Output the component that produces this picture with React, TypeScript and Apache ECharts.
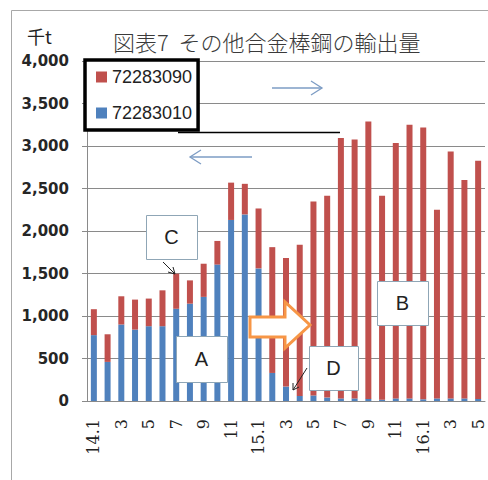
import { useEffect, useRef } from "react";
import * as echarts from "echarts";

// Monthly export volume (thousand tonnes), Jan 2014 – May 2016
const categories = [
  "14.1", "14.2", "14.3", "14.4", "14.5", "14.6", "14.7", "14.8", "14.9", "14.10", "14.11", "14.12",
  "15.1", "15.2", "15.3", "15.4", "15.5", "15.6", "15.7", "15.8", "15.9", "15.10", "15.11", "15.12",
  "16.1", "16.2", "16.3", "16.4", "16.5",
];

const tickLabels = [
  "14.1", "2", "3", "4", "5", "6", "7", "8", "9", "10", "11", "12",
  "15.1", "2", "3", "4", "5", "6", "7", "8", "9", "10", "11", "12",
  "16.1", "2", "3", "4", "5",
];

// HS 7228.30-10
const export72283010 = [
  775, 460, 900, 840, 880, 880, 1085, 1145, 1225, 1605, 2130, 2195,
  1560, 330, 170, 60, 65, 40, 30, 30, 25, 15, 30, 30,
  20, 30, 30, 30, 25,
];

// HS 7228.30-90
const export72283090 = [
  305, 325, 332, 353, 325, 422, 413, 274, 390, 278, 439, 360,
  705, 1480, 1511, 1778, 2281, 2376, 3063, 3047, 3263, 2401, 3004, 3219,
  3198, 2219, 2906, 2570, 2802,
];

const yMin = 0;
const yMax = 4000;
const yStep = 500;

const seriesNames = ["72283090", "72283010"];

const BLUE = "#4f81bd";
const RED = "#c0504d";
const GRID = "#8a8a8a";
const NOTE_BORDER = "#8fa6b6";
const ARROW_BLUE = "#7d9cc4";

function noteBox(x: number, y: number, w: number, h: number, label: string) {
  return {
    type: "group",
    z: 100,
    children: [
      {
        type: "rect",
        shape: { x: x + 0.5, y: y + 0.5, width: w, height: h },
        style: { fill: "#fff", stroke: NOTE_BORDER, lineWidth: 1 },
        z: 100,
      },
      {
        type: "text",
        x: x + w / 2,
        y: y + h / 2,
        style: {
          text: label,
          fontFamily: "Liberation Sans",
          fontSize: 20,
          fill: "#222",
          align: "center",
          verticalAlign: "middle",
        },
        z: 101,
      },
    ],
  };
}

export default function App() {
  const ref = useRef<HTMLDivElement>(null);

  useEffect(() => {
    if (!ref.current) return;
    const chart = echarts.init(ref.current, undefined, { renderer: "svg" });

    chart.setOption({
      animation: false,
      backgroundColor: "#fff",
      title: {
        text: "図表7  その他合金棒鋼の輸出量",
        left: 113,
        top: 30,
        padding: 0,
        textStyle: {
          fontFamily: "Noto Sans CJK JP",
          fontSize: 22,
          fontWeight: 300,
          color: "#3a3a3a",
        },
      },
      legend: {
        data: seriesNames,
        orient: "vertical",
        left: 85,
        top: 60,
        padding: [8, 6, 8, 11],
        itemGap: 18,
        itemWidth: 11,
        itemHeight: 11,
        icon: "rect",
        selectedMode: false,
        backgroundColor: "#fff",
        borderColor: "#000",
        borderWidth: 3.5,
        borderRadius: 0,
        textStyle: {
          fontFamily: "Liberation Sans",
          fontSize: 18,
          lineHeight: 18,
          color: "#222",
        },
        z: 50,
      },
      grid: { left: 87, right: 3, top: 61, bottom: 79 },
      xAxis: {
        type: "category",
        data: categories,
        boundaryGap: true,
        axisLine: { lineStyle: { color: GRID, width: 1 } },
        axisTick: { interval: 0, length: 5, lineStyle: { color: GRID } },
        axisLabel: {
          interval: 1,
          rotate: 90,
          margin: 18,
          fontFamily: "DejaVu Serif",
          fontSize: 16,
          color: "#222",
          formatter: (_v: string, i: number) => tickLabels[i],
        },
      },
      yAxis: {
        type: "value",
        min: yMin,
        max: yMax,
        interval: yStep,
        axisLine: { show: true, lineStyle: { color: GRID, width: 1 } },
        axisTick: { show: true, length: 5, lineStyle: { color: GRID } },
        splitLine: { lineStyle: { color: GRID, width: 1 } },
        axisLabel: {
          margin: 18,
          fontFamily: "DejaVu Sans",
          fontWeight: "bold",
          fontSize: 15,
          color: "#262626",
          formatter: (v: number) => v.toLocaleString("en-US"),
        },
      },
      series: [
        {
          name: "72283010",
          type: "bar",
          stack: "total",
          barWidth: 6,
          data: export72283010,
          itemStyle: { color: BLUE },
        },
        {
          name: "72283090",
          type: "bar",
          stack: "total",
          barWidth: 6,
          data: export72283090,
          itemStyle: { color: RED },
        },
      ],
      graphic: [
        // outer chart frame
        {
          type: "rect",
          shape: { x: 11.5, y: 10.5, width: 600, height: 600 },
          style: { fill: "none", stroke: "#a8a8a8", lineWidth: 1 },
          z: 0,
          silent: true,
        },
        // unit label
        {
          type: "text",
          x: 27,
          y: 36,
          style: {
            text: "千t",
            fontFamily: "Noto Sans CJK JP",
            fontSize: 18,
            fill: "#222",
            verticalAlign: "middle",
          },
          z: 100,
        },
        // rule under the legend
        {
          type: "line",
          shape: { x1: 178, y1: 132.5, x2: 340, y2: 132.5 },
          style: { stroke: "#000", lineWidth: 1.5 },
          z: 60,
        },
        // right-pointing blue arrow
        {
          type: "line",
          shape: { x1: 272, y1: 88, x2: 322, y2: 88 },
          style: { stroke: ARROW_BLUE, lineWidth: 1.3 },
          z: 100,
        },
        {
          type: "polyline",
          shape: { points: [[311, 81], [322, 88], [311, 95]] },
          style: { stroke: ARROW_BLUE, lineWidth: 1.3, fill: null },
          z: 100,
        },
        // left-pointing blue arrow
        {
          type: "line",
          shape: { x1: 190, y1: 157, x2: 252, y2: 157 },
          style: { stroke: ARROW_BLUE, lineWidth: 1.3 },
          z: 100,
        },
        {
          type: "polyline",
          shape: { points: [[201, 150], [190, 157], [201, 164]] },
          style: { stroke: ARROW_BLUE, lineWidth: 1.3, fill: null },
          z: 100,
        },
        // hollow orange block arrow
        {
          type: "polygon",
          shape: {
            points: [
              [250, 317], [285, 317], [285, 302], [310, 325],
              [285, 348], [285, 337], [250, 337],
            ],
          },
          style: { fill: "#fff", stroke: "#f79646", lineWidth: 3, lineJoin: "miter" },
          z: 100,
        },
        // note boxes
        noteBox(146, 215, 51, 44, "C"),
        noteBox(176, 336, 51, 46, "A"),
        noteBox(377, 281, 51, 44, "B"),
        noteBox(309, 346, 49, 44, "D"),
        // pointer from C
        {
          type: "line",
          shape: { x1: 163, y1: 262, x2: 175, y2: 274 },
          style: { stroke: "#222", lineWidth: 1 },
          z: 100,
        },
        {
          type: "polyline",
          shape: { points: [[168, 272], [175, 274], [173, 267]] },
          style: { stroke: "#222", lineWidth: 1, fill: null },
          z: 100,
        },
        // pointer from D
        {
          type: "line",
          shape: { x1: 307, y1: 368, x2: 293, y2: 390 },
          style: { stroke: "#222", lineWidth: 1 },
          z: 100,
        },
        {
          type: "polyline",
          shape: { points: [[299, 387], [293, 390], [293, 383]] },
          style: { stroke: "#222", lineWidth: 1, fill: null },
          z: 100,
        },
      ],
    });

    return () => chart.dispose();
  }, []);

  return (
    <div
      ref={ref}
      style={{ position: "absolute", left: 0, top: 0, width: 488, height: 480 }}
    />
  );
}
